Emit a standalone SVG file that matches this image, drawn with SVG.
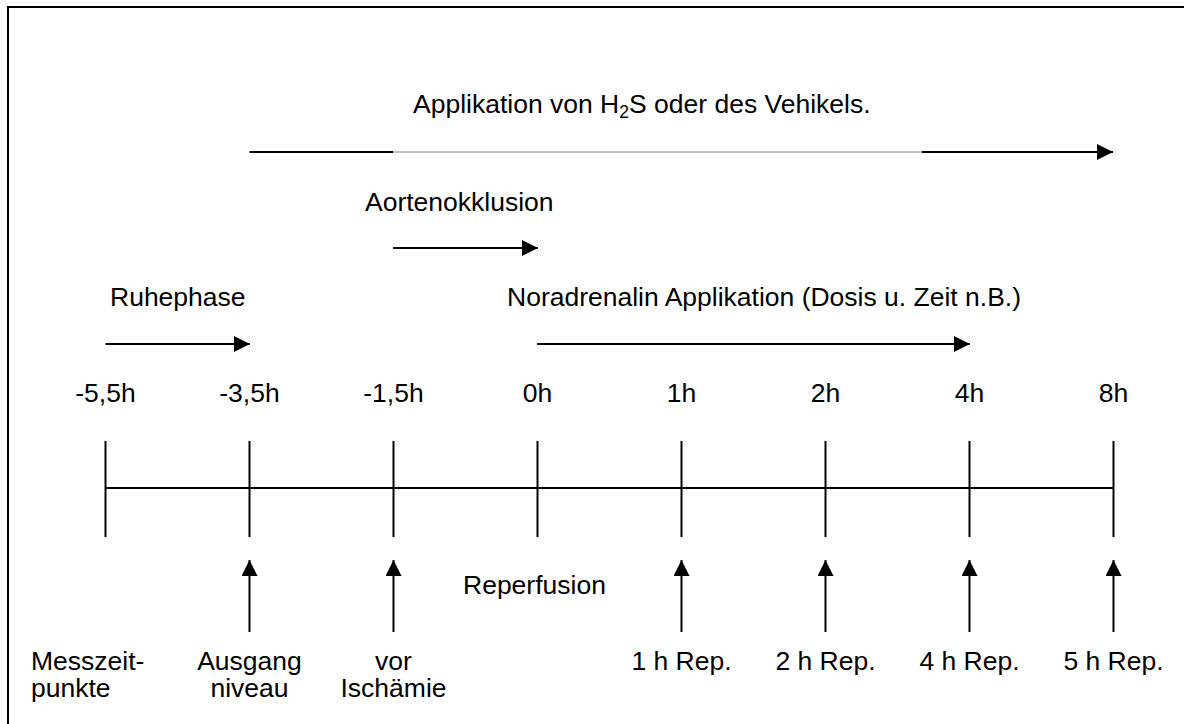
<svg xmlns="http://www.w3.org/2000/svg" width="1184" height="724" viewBox="0 0 1184 724">
<defs>
<marker id="ah" markerUnits="userSpaceOnUse" markerWidth="16" markerHeight="16" refX="16" refY="8" orient="auto">
<path d="M0,0 L16,8 L0,16 Z" fill="#000"/>
</marker>
<style>
text{font-family:"Liberation Sans",Arial,sans-serif;font-size:26.5px;fill:#000}
.m{text-anchor:middle}
.ln{stroke:#000;stroke-width:2;fill:none}
.thin{stroke:#808080;stroke-width:1;fill:none}
.arr{stroke:#000;stroke-width:2;fill:none;marker-end:url(#ah)}
</style>
</defs>
<rect width="1184" height="724" fill="#fff"/>
<path d="M8,724 V7 H1184" class="ln"/>

<g id="applikation">
<text x="413" y="113">Applikation von H<tspan font-size="17.5" dy="5">2</tspan><tspan dy="-5">S oder des Vehikels.</tspan></text>
</g>
<g id="aortenokklusion"><text x="365" y="211">Aortenokklusion</text></g>
<g id="ruhephase"><text x="110" y="306">Ruhephase</text></g>
<g id="noradrenalin"><text x="507" y="306">Noradrenalin Applikation (Dosis u. Zeit n.B.)</text></g>
<g id="reperfusion"><text x="463" y="594">Reperfusion</text></g>

<g id="t1"><text class="m" x="105.5" y="402">-5,5h</text><text x="31" y="670">Messzeit-</text><text x="31" y="697">punkte</text></g>
<g id="t2"><text class="m" x="249.5" y="402">-3,5h</text><text class="m" x="249.5" y="670">Ausgang</text><text class="m" x="249.5" y="697">niveau</text></g>
<g id="t3"><text class="m" x="393.5" y="402">-1,5h</text><text class="m" x="393.5" y="670">vor</text><text class="m" x="393.5" y="697">Ischämie</text></g>
<g id="t4"><text class="m" x="537.5" y="402">0h</text></g>
<g id="t5"><text class="m" x="681.5" y="402">1h</text><text class="m" x="681.5" y="670">1 h Rep.</text></g>
<g id="t6"><text class="m" x="825.5" y="402">2h</text><text class="m" x="825.5" y="670">2 h Rep.</text></g>
<g id="t7"><text class="m" x="969.5" y="402">4h</text><text class="m" x="969.5" y="670">4 h Rep.</text></g>
<g id="t8"><text class="m" x="1113.5" y="402">8h</text><text class="m" x="1113.5" y="670">5 h Rep.</text></g>

<g id="connectors">
<line class="ln" x1="249.5" y1="152" x2="393" y2="152"/>
<line class="thin" x1="393" y1="152" x2="922" y2="152"/>
<line class="arr" x1="922" y1="152" x2="1113" y2="152"/>
<line class="arr" x1="393" y1="248" x2="538" y2="248"/>
<line class="arr" x1="105.5" y1="344" x2="250" y2="344"/>
<line class="arr" x1="537" y1="344" x2="970" y2="344"/>
<line class="ln" x1="105.5" y1="488" x2="1113.5" y2="488"/>
<line class="ln" x1="105.5" y1="441" x2="105.5" y2="537"/>
<line class="ln" x1="249.5" y1="441" x2="249.5" y2="537"/>
<line class="ln" x1="393.5" y1="441" x2="393.5" y2="537"/>
<line class="ln" x1="537.5" y1="441" x2="537.5" y2="537"/>
<line class="ln" x1="681.5" y1="441" x2="681.5" y2="537"/>
<line class="ln" x1="825.5" y1="441" x2="825.5" y2="537"/>
<line class="ln" x1="969.5" y1="441" x2="969.5" y2="537"/>
<line class="ln" x1="1113.5" y1="441" x2="1113.5" y2="537"/>
<line class="arr" x1="249.5" y1="632" x2="249.5" y2="560"/>
<line class="arr" x1="393.5" y1="632" x2="393.5" y2="560"/>
<line class="arr" x1="681.5" y1="632" x2="681.5" y2="560"/>
<line class="arr" x1="825.5" y1="632" x2="825.5" y2="560"/>
<line class="arr" x1="969.5" y1="632" x2="969.5" y2="560"/>
<line class="arr" x1="1113.5" y1="632" x2="1113.5" y2="560"/>
</g>
</svg>
